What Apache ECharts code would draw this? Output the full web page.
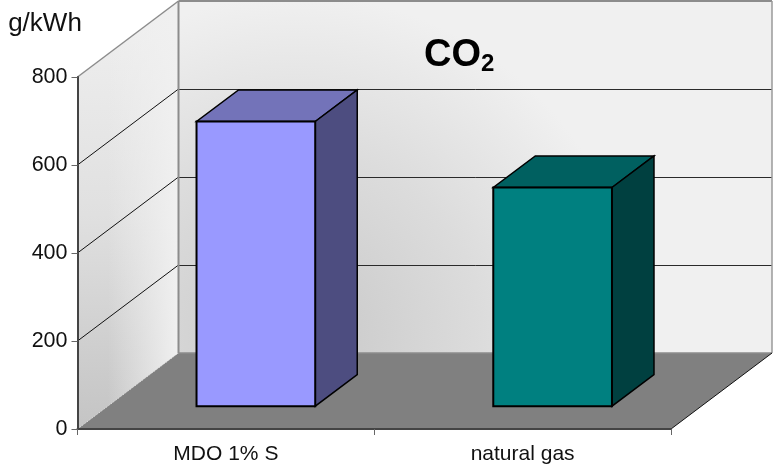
<!DOCTYPE html>
<html><head><meta charset="utf-8">
<style>html,body{margin:0;padding:0;background:#fff}#c{width:773px;height:467px}</style>
<script src="https://cdn.jsdelivr.net/npm/echarts@6/dist/echarts.min.js"></script>
</head><body><div id="c"></div>
<script>
const categories = ['MDO 1% S', 'natural gas'];
const values = [647, 497];
const gridTicks = [200, 400, 600, 800];
const yMax = 800, yStep = 200;
const frontColors = ['#9999ff', '#008080'];
const topColors = ['#7373b9', '#006060'];
const sideColors = ['#4d4d80', '#004040'];
const DX = 101, DY = 76;

const chart = echarts.init(document.getElementById('c'), null, {renderer: 'canvas'});

function poly(points, fill, stroke, w) {
  return {type: 'polygon', shape: {points}, style: {fill, stroke: stroke || null, lineWidth: w || 0, lineJoin: 'miter'}};
}
function line(a, b, stroke, w, dash) {
  return {type: 'line', shape: {x1: a[0], y1: a[1], x2: b[0], y2: b[1]}, style: {stroke, lineWidth: w, lineDash: dash || null}};
}
function renderFrame(params, api) {
  const o = api.coord([0, 0]);
  const band = api.size([1, 0])[0];
  const right = o[0] - band / 2 + band * categories.length;
  const x0 = o[0] - band / 2, y0 = o[1], yT = api.coord([0, yMax])[1];
  const children = [];
  const back = (x, y) => [x + DX, y - DY];
  children.push(poly([back(x0, yT), back(right, yT), back(right, y0), back(x0, y0)], {
    type: 'radial', x: 0.2, y: 0.95, r: 1.05,
    colorStops: [{offset: 0, color: '#c8c8c8'}, {offset: 0.5, color: '#dcdcdc'}, {offset: 0.92, color: '#f0f0f0'}, {offset: 1, color: '#f0f0f0'}]
  }));
  const wall = [[x0, yT], back(x0, yT), back(x0, y0), [x0, y0]];
  children.push(poly(wall, {
    type: 'linear', x: 0, y: 0, x2: 0, y2: 1,
    colorStops: [{offset: 0, color: '#f0f0f0'}, {offset: 0.5, color: '#e0e0e0'}, {offset: 1, color: '#c4c4c4'}]
  }));
  children.push(poly(wall, {
    type: 'linear', x: 0, y: 0, x2: 1, y2: 0,
    colorStops: [{offset: 0, color: 'rgba(240,240,240,0)'}, {offset: 0.3, color: 'rgba(240,240,240,0)'}, {offset: 1, color: 'rgba(240,240,240,1)'}]
  }));
  children.push(poly([[x0, y0], [right, y0], back(right, y0), back(x0, y0)], '#808080'));
  gridTicks.forEach(t => {
    const y = api.coord([0, t])[1];
    if (t < yMax) {
      children.push(line([x0 + DX, y - DY + 0.5], [right + DX, y - DY + 0.5], '#2a2a2a', 1));
      children.push(line([x0, y], back(x0, y), '#111111', 1));
    }
  });
  children.push(line([x0, y0], back(x0, y0), '#e4e4e4', 1, [1, 2]));
  children.push(line(back(x0, yT), [x0, yT], '#8c8c8c', 1.5));
  children.push(line(back(x0, yT), back(right, yT), '#8c8c8c', 2));
  children.push(line(back(x0, yT), back(x0, y0), '#8c8c8c', 2));
  children.push(line(back(right, yT), back(right, y0), '#9a9a9a', 1.5));
  children.push(line(back(x0, y0), back(right, y0), '#8c8c8c', 1.5));
  children.push(line([right, y0], back(right, y0), '#111111', 1));
  return {type: 'group', children};
}
function renderBar(params, api) {
  const i = api.value(0), v = api.value(1);
  const band = api.size([1, 0])[0];
  const c = api.coord([i, 0]), t = api.coord([i, v]);
  const w = band * 0.4;
  const sx = DX * 0.297, sy = DY * 0.3;
  const dx = DX * 0.416, dy = DY * 0.416;
  const L = c[0] + sx - w / 2, R = L + w, B = c[1] - sy, T = t[1] - sy;
  const k = 2;
  return {type: 'group', children: [
    poly([[L, T], [R, T], [R + dx, T - dy], [L + dx, T - dy]], topColors[i], '#000', k - 0.5),
    poly([[R, T], [R + dx, T - dy], [R + dx, B - dy], [R, B]], sideColors[i], '#000', k - 0.5),
    poly([[L, T], [R, T], [R, B], [L, B]], frontColors[i], '#000', k)
  ]};
}
chart.setOption({
  animation: false,
  backgroundColor: '#ffffff',
  title: {
    text: '{a|CO}{b|2}', left: 424, top: 34, padding: 0,
    textStyle: {rich: {
      a: {fontFamily: 'Liberation Sans', fontSize: 38, fontWeight: 'bold', color: '#000', lineHeight: 44},
      b: {fontFamily: 'Liberation Sans', fontSize: 24, fontWeight: 'bold', color: '#000', lineHeight: 44, padding: [16, 0, 0, 0]}
    }}
  },
  grid: {left: 77.5, top: 77, width: 593.5, height: 352, containLabel: false},
  xAxis: {
    type: 'category', data: categories, z: 5,
    axisLine: {lineStyle: {color: '#444444', width: 2}},
    axisTick: {show: true, length: 6, lineStyle: {color: '#666666', width: 1}},
    axisLabel: {fontFamily: 'Liberation Sans', fontSize: 21, color: '#111', margin: 15},
    splitLine: {show: false}
  },
  yAxis: {
    type: 'value', min: 0, max: yMax, interval: yStep, z: 5,
    name: 'g/kWh', nameLocation: 'end', nameGap: 40,
    nameTextStyle: {fontFamily: 'Liberation Sans', fontSize: 26, color: '#111', align: 'center', padding: [0, 65, 0, 0]},
    axisLine: {show: true, lineStyle: {color: '#444444', width: 2}},
    axisTick: {show: true, length: 6, lineStyle: {color: '#666666', width: 1}},
    axisLabel: {fontFamily: 'Liberation Sans', fontSize: 21.5, color: '#111', margin: 10},
    splitLine: {show: false}
  },
  series: [
    {type: 'custom', z: 1, silent: true, renderItem: renderFrame, data: [[0, 0]], encode: {x: 0, y: 1}, clip: false},
    {type: 'custom', z: 2, renderItem: renderBar, data: categories.map((c, i) => [i, values[i]]), encode: {x: 0, y: 1}, clip: false}
  ]
});
</script></body></html>
